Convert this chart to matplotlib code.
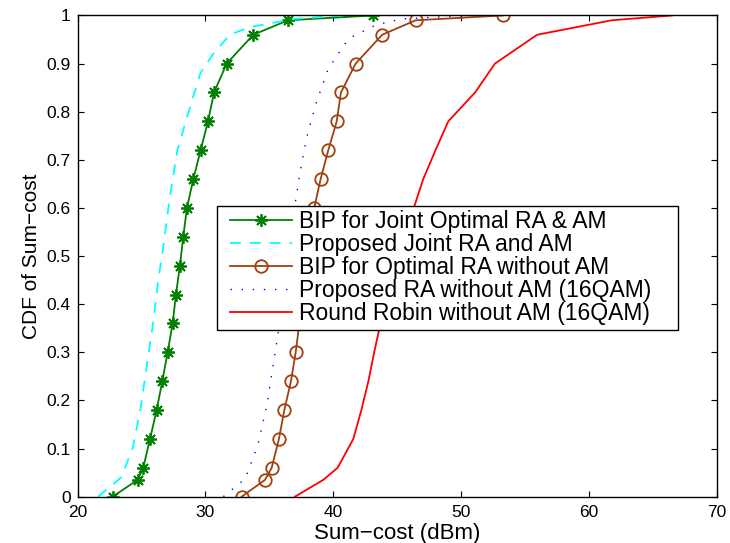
import matplotlib
matplotlib.use("Agg")
import matplotlib.pyplot as plt
from matplotlib.lines import Line2D
from matplotlib.legend_handler import HandlerLine2D

plt.rcParams['font.family'] = ['Liberation Sans', 'DejaVu Sans']

# ---- data ----
bip_joint_x = [22.74, 24.69, 25.13, 25.66, 26.18, 26.62, 27.04, 27.43, 27.69, 28.0,
               28.26, 28.55, 29.05, 29.62, 30.2, 30.67, 31.66, 33.74, 36.46, 43.08]
bip_joint_y = [0, 0.035, 0.06, 0.12, 0.18, 0.24, 0.30, 0.36, 0.42, 0.48,
               0.54, 0.60, 0.66, 0.72, 0.78, 0.84, 0.90, 0.96, 0.99, 1.0]

prop_joint_x = [21.6, 23.4, 24.3, 24.9, 25.4, 25.9, 26.3, 26.6, 27.2, 27.8,
                28.8, 29.6, 30.6, 31.9, 33.5, 37.0, 40.9]
prop_joint_y = [0, 0.04, 0.10, 0.18, 0.27, 0.36, 0.45, 0.50, 0.62, 0.72,
                0.81, 0.88, 0.92, 0.96, 0.976, 0.993, 1.0]

bip_noam_x = [32.83, 34.66, 35.18, 35.75, 36.17, 36.69, 37.06, 37.35, 37.65, 37.95,
              38.2, 38.51, 39.01, 39.61, 40.27, 40.6, 41.75, 43.83, 46.45, 53.25]
bip_noam_y = [0, 0.035, 0.06, 0.12, 0.18, 0.24, 0.30, 0.36, 0.42, 0.48,
              0.54, 0.60, 0.66, 0.72, 0.78, 0.84, 0.90, 0.96, 0.99, 1.0]

prop_noam_x = [31.4, 33.1, 34.1, 34.8, 35.3, 35.7, 36.1, 36.6, 37.0, 37.4,
               37.9, 38.6, 39.6, 41.2, 43.3, 45.4, 50.6]
prop_noam_y = [0, 0.037, 0.107, 0.19, 0.273, 0.342, 0.43, 0.52, 0.606, 0.675,
               0.744, 0.813, 0.889, 0.952, 0.98, 0.993, 1.0]

rr_x = [37.0, 39.22, 40.34, 41.57, 42.2, 42.75, 43.2, 43.7, 44.3, 44.95,
        45.65, 46.3, 47.04, 48.0, 49.0, 51.1, 52.65, 55.96, 61.8, 66.5]
rr_y = [0, 0.035, 0.06, 0.12, 0.18, 0.24, 0.30, 0.36, 0.42, 0.48,
        0.54, 0.60, 0.66, 0.72, 0.78, 0.84, 0.90, 0.96, 0.99, 1.0]

labels = ['BIP for Joint Optimal RA & AM',
          'Proposed Joint RA and AM',
          'BIP for Optimal RA without AM',
          'Proposed RA without AM (16QAM)',
          'Round Robin without AM (16QAM)']

x_ticks = [20, 30, 40, 50, 60, 70]
y_ticks = [0, 0.1, 0.2, 0.3, 0.4, 0.5, 0.6, 0.7, 0.8, 0.9, 1]
y_tick_labels = ['0', '0.1', '0.2', '0.3', '0.4', '0.5', '0.6', '0.7', '0.8', '0.9', '1']

# ---- figure ----
fig = plt.figure(figsize=(7.30, 5.43), dpi=100)
ax = fig.add_axes([0.1064, 0.0853, 0.8753, 0.8862])

green = '#008000'
brown = '#a0400f'

ax.plot(bip_joint_x, bip_joint_y, color=green, lw=1.3, marker=(8, 2, 0),
        markersize=9, markeredgewidth=1.3, label=labels[0])
ax.plot(prop_joint_x, prop_joint_y, color='#00ffff', lw=1.3, dashes=(6, 5),
        label=labels[1])
ax.plot(bip_noam_x, bip_noam_y, color=brown, lw=1.3, marker='o',
        markersize=9, markerfacecolor='none', markeredgewidth=1.3, label=labels[2])
ax.plot(prop_noam_x, prop_noam_y, color='#0000ff', lw=1.0, dashes=(1, 7),
        label=labels[3])
ax.plot(rr_x, rr_y, color='#ff0000', lw=1.3, label=labels[4])

ax.set_xlim(20, 70)
ax.set_ylim(0, 1)
ax.set_xticks(x_ticks)
ax.set_xticklabels([str(t) for t in x_ticks])
ax.set_yticks(y_ticks)
ax.set_yticklabels(y_tick_labels)
ax.tick_params(direction='in', length=4, width=0.8, top=True, right=True,
               labelsize=12.5, colors='black')
ax.tick_params(axis='x', pad=6)
ax.tick_params(axis='y', pad=5)
for sp in ax.spines.values():
    sp.set_linewidth(1.0)

ax.set_xlabel('Sum\u2212cost (dBm)', fontsize=16, labelpad=2)
ax.set_ylabel('CDF of Sum\u2212cost', fontsize=15, labelpad=4)

leg = ax.legend(loc='upper left', bbox_to_anchor=(0.2185, 0.605, 0.7205, 0.0),
                mode='expand', fontsize=16.5, frameon=True, fancybox=False,
                edgecolor='black', framealpha=1, handlelength=3.06,
                handletextpad=0.3, labelspacing=0.0, borderpad=0.2,
                borderaxespad=0,
                handler_map={Line2D: HandlerLine2D(xpad=0.35)})
leg.get_frame().set_linewidth(1.0)

fig.savefig('out.png', dpi=100)
